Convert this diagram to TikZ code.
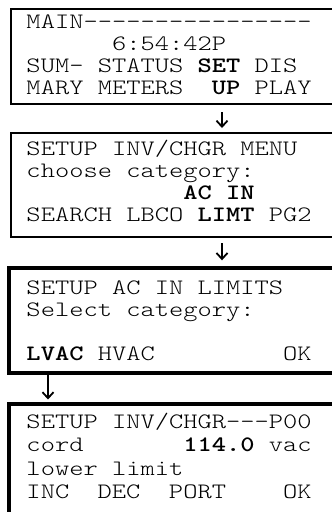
\documentclass[tikz,border=0pt]{standalone}
\usepackage{graphicx}
\usetikzlibrary{arrows.meta}
\newcommand\mydash{-\kern0pt }
\newcommand\blank[1]{\hspace*{#1\dimexpr0.525em\relax}}
\newcommand\lcd[1]{\scalebox{1.234}[1]{\ttfamily\fontseries{l}\fontsize{22}{22}\selectfont\frenchspacing #1}}
\begin{document}
\begin{tikzpicture}[x=1pt,y=-1pt,
  scr/.style={draw, rectangle, anchor=north west, inner sep=0pt, outer sep=0pt, line width=2pt},
  scrb/.style={scr, line width=4pt},
  txt/.style={anchor=base west, inner sep=0pt, outer sep=0pt},
  arr/.style={line width=1.8pt, -{Straight Barb[length=6pt,width=11pt]}}]
\clip (0,0) rectangle (332,512);
% screens
\node[scr,  minimum width=340pt, minimum height=95pt]  (s1) at (11,9) {};
\node[scr,  minimum width=340pt, minimum height=104pt] (s2) at (11,133) {};
\node[scrb, minimum width=340pt, minimum height=104.2pt] (s3) at (9,268.3) {};
\node[scrb, minimum width=340pt, minimum height=130pt] (s4) at (9,404) {};
% screen 1
\node[txt] (t11) at (26.5,28.3)  {\lcd{MAIN\mydash\mydash\mydash\mydash\mydash\mydash\mydash\mydash\mydash\mydash\mydash\mydash\mydash\mydash\mydash-}};
\node[txt] (t12) at (26.5,50.5)  {\lcd{\blank{6}6:54:42P}};
\node[txt] (t13) at (26.5,72.7)  {\lcd{SUM- STATUS \textbf{SET} DIS}};
\node[txt] (t14) at (26.5,94.9)  {\lcd{MARY METERS\blank{2}\textbf{UP} PLAY}};
% screen 2
\node[txt] (t21) at (26.5,155)   {\lcd{SETUP INV/CHGR MENU}};
\node[txt] (t22) at (26.5,177.2) {\lcd{choose category:}};
\node[txt] (t23) at (26.5,199.4) {\lcd{\blank{11}\textbf{AC IN}}};
\node[txt] (t24) at (26.5,221.6) {\lcd{SEARCH LBCO \textbf{LIMT} PG2}};
% screen 3
\node[txt] (t31) at (26.5,294.3) {\lcd{SETUP AC IN LIMITS}};
\node[txt] (t32) at (26.5,316.5) {\lcd{Select category:}};
\node[txt] (t34) at (26.5,360.9) {\lcd{\textbf{LVAC} HVAC\blank{9}OK}};
% screen 4
\node[txt] (t41) at (26.5,428)   {\lcd{SETUP INV/CHGR\mydash\mydash-P00}};
\node[txt] (t42) at (26.5,451.5) {\lcd{cord\blank{7}\textbf{114.0} vac}};
\node[txt] (t43) at (26.5,475)   {\lcd{lower limit}};
\node[txt] (t44) at (26.5,498.5) {\lcd{INC\blank{2}DEC\blank{2}PORT\blank{4}OK}};
% connectors
\coordinate (ax1) at (222,0);
\coordinate (ax3) at (48,0);
\draw[arr, shorten <=8pt, shorten >=5pt] (s1.south -| ax1) -- (s2.north -| ax1);
\draw[arr, shorten <=6pt, shorten >=8pt] (s2.south -| ax1) -- (s3.north -| ax1);
\draw[arr, shorten <=2pt, shorten >=4.5pt] (s3.south -| ax3) -- (s4.north -| ax3);
\end{tikzpicture}
\end{document}
